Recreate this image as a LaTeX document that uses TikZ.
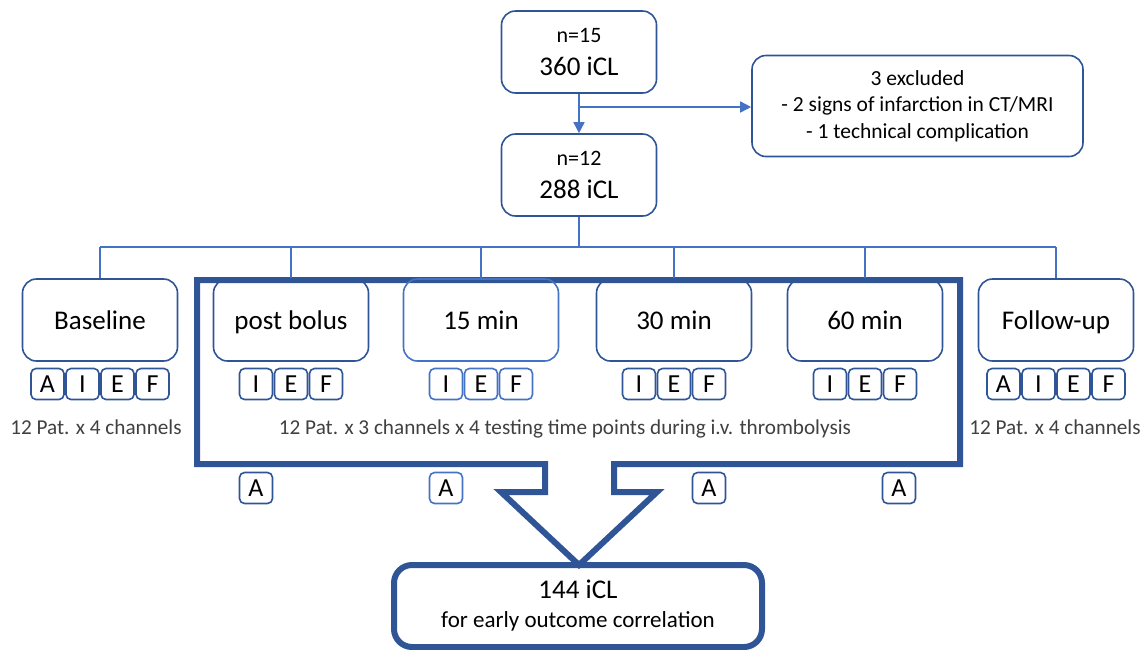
\documentclass[tikz,border=0pt]{standalone}
\usepackage{fontspec}
\setmainfont{Carlito}
\usetikzlibrary{arrows.meta}

\definecolor{boxblue}{RGB}{47,85,151}
\definecolor{lightblue}{RGB}{68,114,196}
\definecolor{txtgray}{RGB}{64,64,64}

\tikzset{
  rbox/.style={draw=boxblue, line width=1.6pt, rounded corners=14pt,
    minimum width=155pt, minimum height=82pt, inner sep=0pt, align=center},
  stage/.style={rbox, text height=18pt, text depth=0pt,
    font=\fontsize{27}{32}\selectfont},
  chan/.style={draw=boxblue, line width=1.6pt, rounded corners=5pt,
    minimum width=33pt, minimum height=31pt, inner sep=0pt,
    text height=16.5pt, text depth=0pt, font=\fontsize{26}{28}\selectfont},
  link/.style={lightblue, line width=1.5pt},
  count/.style={text=txtgray, anchor=base, font=\fontsize{21.2}{24}\selectfont}
}

\begin{document}
\begin{tikzpicture}[x=1pt,y=-1pt]
  \useasboundingbox (0,0) rectangle (1146,649);

  % patients
  \node[rbox, font=\fontsize{27}{33}\selectfont] (n15) at (579,52)
    {{\fontsize{22}{33}\selectfont n=15}\\360 iCL};
  \node[rbox, font=\fontsize{27}{33}\selectfont] (n12) at (579,175)
    {{\fontsize{22}{33}\selectfont n=12}\\288 iCL};
  \node[rbox, minimum width=331pt, minimum height=101pt,
        font=\fontsize{21.5}{26.5}\selectfont] (excl) at (917.5,106)
    {3 excluded\\- 2 signs of infarction in CT/MRI\\- 1 technical complication};

  \coordinate (split) at (n15.south |- 0,107);
  \draw[link,-{Triangle[length=11pt,width=11pt]}] (n15.south) -- (n12.north);
  \draw[link,-{Triangle[length=11pt,width=11pt]}] (split) -- (split -| excl.west);

  % thrombolysis frame
  \draw[boxblue, line width=6pt] (197,280) -- (960,280) -- (960,464) -- (614,464)
    -- (614,492) -- (657,492) -- (579,565) -- (501,492) -- (545,492)
    -- (545,464) -- (197,464) -- cycle;

  % time points
  \node[stage] (base)   at (100,320) {Baseline};
  \node[stage] (bolus)  at (291,320) {post bolus};
  \node[stage, draw=lightblue] (m15) at (481,320) {15 min};
  \node[stage] (m30)    at (674,320) {30 min};
  \node[stage] (m60)    at (865,320) {60 min};
  \node[stage] (follow) at (1056,320) {Follow-up};

  \coordinate (bus) at (579,247);
  \draw[link] (n12.south) -- (bus);
  \draw[link] (base.north |- bus) -- (follow.north |- bus);
  \foreach \t in {base,bolus,m15,m30,m60,follow}
    \draw[link] (\t.north |- bus) -- (\t.north);

  % channels
  \foreach \l [count=\i] in {A,I,E,F} {
    \node[chan] (base-\l) at ({100+(\i-2.5)*35},384) {\l};
    \node[chan] (follow-\l) at ({1056+(\i-2.5)*35},384) {\l};
  }
  \foreach \t/\x/\c in {bolus/291/boxblue,m15/481/lightblue,m30/674/boxblue,m60/865/boxblue}
    \foreach \l [count=\i] in {I,E,F}
      \node[chan, draw=\c] (\t-\l) at ({\x+(\i-2)*35},384) {\l};

  \node[count] (cnt-base) at (96,434) {12 Pat. x 4 channels};
  \node[count] (cnt-mid) at (565,434)
    {12 Pat. x 3 channels x 4 testing time points during i.v. thrombolysis};
  \node[count] (cnt-follow) at (1055,434) {12 Pat. x 4 channels};

  \node[chan] (a1) at (256,488) {A};
  \node[chan, draw=lightblue] (a2) at (446,488) {A};
  \node[chan] (a3) at (709,488) {A};
  \node[chan] (a4) at (899,488) {A};

  % outcome
  \node[rbox, line width=6pt, rounded corners=18pt, minimum width=368pt,
        font=\fontsize{27}{29}\selectfont] (res) at (578,606)
    {144 iCL\\{\fontsize{23}{29}\selectfont for early outcome correlation}};
\end{tikzpicture}
\end{document}
